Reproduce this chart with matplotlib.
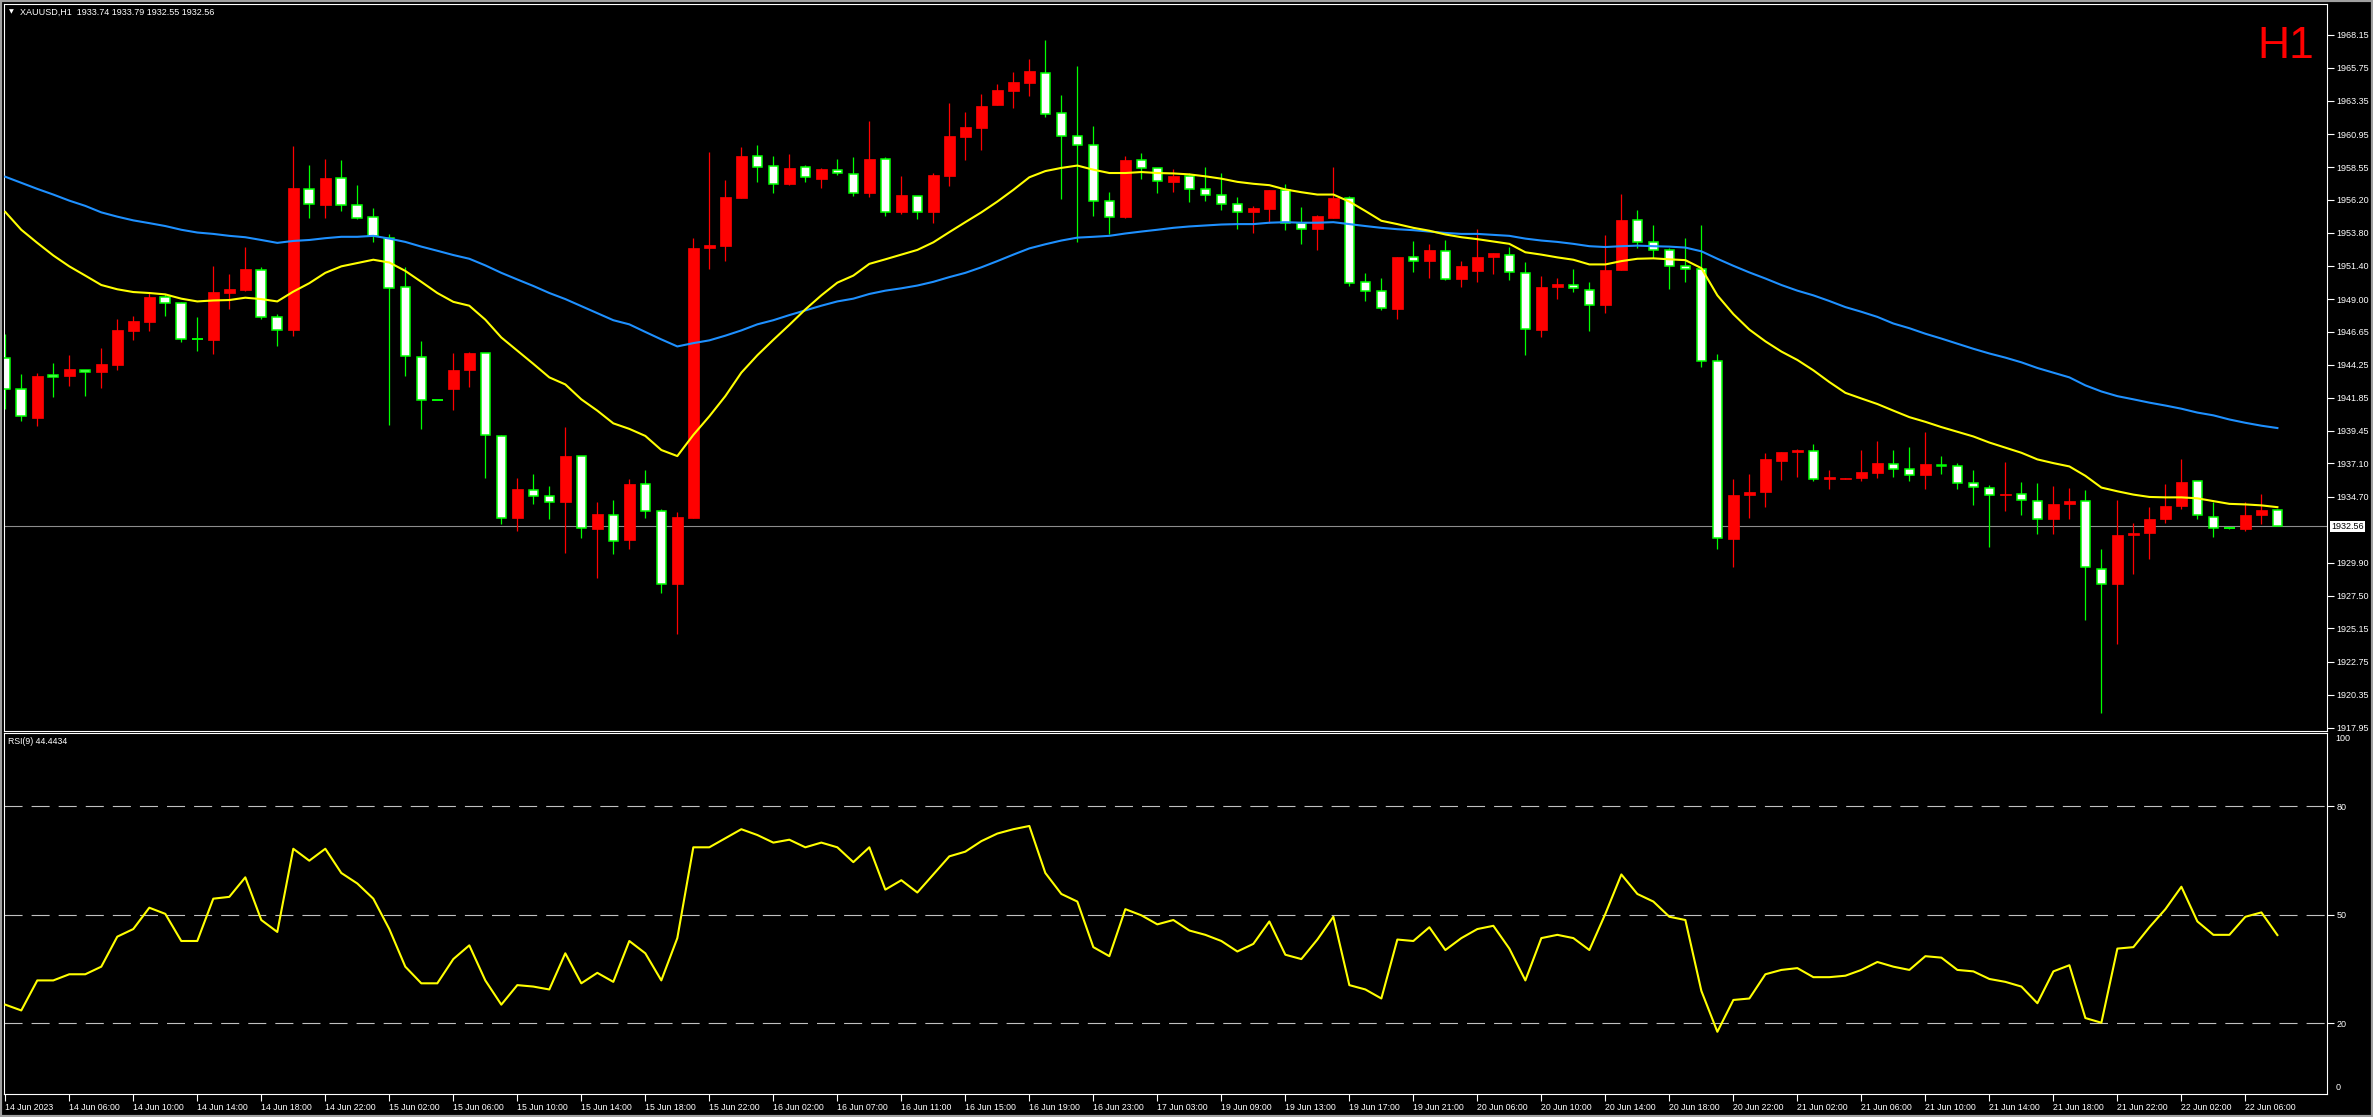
import matplotlib
matplotlib.use('Agg')
import matplotlib.pyplot as plt
from matplotlib.patches import Rectangle

plt.rcParams['font.family'] = ['Liberation Sans', 'DejaVu Sans']
plt.rcParams['lines.scale_dashes'] = False

symbol = 'XAUUSD,H1'
last_ohlc = [1933.74, 1933.79, 1932.55, 1932.56]

opens = [1944.75, 1942.48, 1940.41, 1943.50, 1943.40, 1943.86, 1943.73, 1944.24, 1946.72, 1947.33,
         1949.13, 1948.69, 1946.14, 1946.04, 1949.47, 1949.64, 1951.13, 1947.67, 1946.79, 1956.94,
         1955.82, 1957.75, 1955.82, 1954.94, 1953.41, 1949.88, 1944.78, 1941.70, 1942.51, 1943.83,
         1945.09, 1939.09, 1933.18, 1935.15, 1934.74, 1934.33, 1937.63, 1932.37, 1933.39, 1931.52,
         1935.59, 1933.66, 1928.33, 1933.15, 1952.67, 1952.83, 1956.33, 1959.35, 1958.64, 1957.35,
         1958.57, 1957.72, 1958.37, 1958.03, 1956.70, 1959.11, 1955.28, 1956.50, 1955.28, 1957.93,
         1960.71, 1961.42, 1963.02, 1964.10, 1964.68, 1965.39, 1962.44, 1960.78, 1960.13, 1956.13,
         1954.97, 1959.04, 1958.47, 1957.45, 1957.89, 1956.94, 1956.57, 1955.92, 1955.28, 1955.55,
         1956.91, 1954.50, 1954.09, 1954.87, 1956.30, 1950.22, 1949.57, 1948.28, 1952.05, 1951.78,
         1952.46, 1950.46, 1951.00, 1952.02, 1952.22, 1950.86, 1946.79, 1949.88, 1950.05, 1949.68,
         1948.59, 1951.07, 1954.70, 1953.17, 1952.53, 1951.37, 1951.20, 1944.48, 1931.65, 1934.81,
         1935.05, 1937.29, 1937.94, 1937.97, 1935.96, 1935.96, 1936.07, 1936.44, 1937.08, 1936.68,
         1936.24, 1937.02, 1936.88, 1935.66, 1935.35, 1934.78, 1934.85, 1934.40, 1933.05, 1934.13,
         1934.40, 1929.48, 1928.40, 1931.89, 1932.03, 1933.05, 1934.00, 1935.79, 1933.25, 1932.43,
         1932.37, 1933.39, 1933.74]
highs = [1946.45, 1943.56, 1943.66, 1944.37, 1944.95, 1943.86, 1945.46, 1947.54, 1947.81, 1949.47,
         1949.34, 1948.76, 1947.71, 1951.40, 1950.79, 1952.76, 1951.30, 1947.91, 1960.10, 1958.74,
         1959.15, 1959.08, 1957.25, 1955.58, 1953.68, 1951.30, 1945.97, 1941.70, 1945.12, 1945.19,
         1945.09, 1939.19, 1936.03, 1936.34, 1935.45, 1939.70, 1937.63, 1934.30, 1934.44, 1935.96,
         1936.61, 1933.80, 1933.59, 1953.41, 1959.62, 1957.62, 1960.00, 1960.17, 1959.35, 1959.49,
         1958.71, 1958.50, 1959.15, 1959.28, 1961.90, 1959.28, 1957.93, 1956.50, 1958.13, 1963.19,
         1962.54, 1963.83, 1964.58, 1965.43, 1966.38, 1967.77, 1963.77, 1965.87, 1961.52, 1956.74,
         1959.35, 1959.59, 1958.47, 1958.40, 1958.13, 1958.57, 1958.10, 1956.40, 1955.75, 1956.91,
         1957.32, 1955.65, 1955.11, 1958.57, 1956.47, 1950.90, 1950.53, 1952.05, 1953.21, 1952.97,
         1953.28, 1951.74, 1954.06, 1952.32, 1952.76, 1951.67, 1950.66, 1950.53, 1951.17, 1950.22,
         1953.65, 1956.60, 1955.45, 1954.36, 1952.73, 1953.41, 1954.36, 1944.99, 1935.96, 1936.34,
         1937.87, 1937.94, 1938.14, 1938.51, 1936.61, 1936.07, 1938.07, 1938.72, 1938.07, 1938.27,
         1939.36, 1937.63, 1937.15, 1936.61, 1935.52, 1937.19, 1935.76, 1935.69, 1935.45, 1935.32,
         1935.18, 1930.87, 1934.44, 1932.78, 1933.96, 1935.62, 1937.43, 1935.79, 1934.33, 1932.50,
         1934.27, 1934.85, 1933.79]
lows = [1941.06, 1940.17, 1939.84, 1941.94, 1942.72, 1942.00, 1942.55, 1943.86, 1946.07, 1946.69,
        1947.74, 1945.90, 1945.26, 1945.05, 1948.25, 1949.61, 1947.54, 1945.63, 1946.35, 1954.84,
        1954.84, 1955.35, 1954.77, 1953.17, 1939.87, 1943.40, 1939.57, 1941.70, 1940.96, 1942.62,
        1936.03, 1932.74, 1932.20, 1934.13, 1933.08, 1930.64, 1931.72, 1928.77, 1930.57, 1930.87,
        1933.12, 1927.75, 1924.73, 1933.15, 1951.20, 1951.74, 1956.33, 1957.49, 1956.70, 1957.25,
        1957.49, 1957.01, 1957.96, 1956.47, 1956.37, 1955.04, 1955.14, 1954.77, 1954.53, 1957.18,
        1959.08, 1959.79, 1963.02, 1962.85, 1963.70, 1962.20, 1956.23, 1953.10, 1955.01, 1953.68,
        1954.90, 1957.72, 1956.70, 1956.77, 1956.06, 1956.09, 1955.48, 1954.09, 1953.82, 1954.53,
        1954.02, 1952.97, 1952.56, 1954.87, 1949.98, 1948.83, 1948.18, 1947.57, 1950.97, 1950.53,
        1950.36, 1949.91, 1950.25, 1950.79, 1950.39, 1944.95, 1946.28, 1949.03, 1949.51, 1946.69,
        1948.01, 1951.07, 1952.67, 1951.98, 1949.74, 1950.25, 1944.07, 1930.87, 1929.62, 1933.12,
        1933.96, 1935.93, 1936.13, 1935.79, 1935.25, 1935.96, 1935.86, 1936.07, 1936.13, 1935.79,
        1935.25, 1936.30, 1935.28, 1934.06, 1931.04, 1933.63, 1933.39, 1931.96, 1932.00, 1933.08,
        1925.78, 1918.99, 1924.05, 1929.11, 1930.19, 1932.78, 1933.83, 1933.05, 1931.79, 1932.33,
        1932.23, 1932.74, 1932.55]
closes = [1942.48, 1940.51, 1943.43, 1943.33, 1943.93, 1943.73, 1944.27, 1946.75, 1947.40, 1949.13,
          1948.69, 1946.14, 1946.14, 1949.51, 1949.71, 1951.17, 1947.67, 1946.79, 1957.05, 1955.85,
          1957.75, 1955.79, 1954.90, 1953.58, 1949.78, 1944.85, 1941.67, 1941.70, 1943.86, 1945.09,
          1939.13, 1933.18, 1935.25, 1934.71, 1934.33, 1937.63, 1932.40, 1933.42, 1931.45, 1935.59,
          1933.63, 1928.33, 1933.22, 1952.70, 1952.90, 1956.40, 1959.35, 1958.54, 1957.35, 1958.50,
          1957.86, 1958.40, 1958.10, 1956.70, 1959.15, 1955.31, 1956.54, 1955.31, 1957.99, 1960.81,
          1961.46, 1962.98, 1964.14, 1964.71, 1965.53, 1962.41, 1960.78, 1960.17, 1956.13, 1954.97,
          1959.08, 1958.47, 1957.56, 1957.89, 1956.94, 1956.54, 1955.92, 1955.31, 1955.58, 1956.91,
          1954.50, 1954.09, 1955.01, 1956.33, 1950.19, 1949.57, 1948.32, 1952.05, 1951.78, 1952.56,
          1950.49, 1951.40, 1952.05, 1952.32, 1950.93, 1946.86, 1949.88, 1950.09, 1949.78, 1948.59,
          1951.10, 1954.74, 1953.10, 1952.56, 1951.37, 1951.17, 1944.51, 1931.69, 1934.81, 1935.01,
          1937.43, 1937.94, 1938.07, 1935.96, 1936.10, 1936.07, 1936.47, 1937.12, 1936.68, 1936.27,
          1937.05, 1936.88, 1935.69, 1935.39, 1934.81, 1934.85, 1934.44, 1933.08, 1934.13, 1934.37,
          1929.58, 1928.40, 1931.92, 1932.06, 1933.08, 1934.03, 1935.76, 1933.35, 1932.40, 1932.43,
          1933.39, 1933.76, 1932.56]

# moving averages as drawn on the chart (yellow fast, blue slow)
ma_fast = [1955.31, 1954.02, 1953.07, 1952.16, 1951.37, 1950.70, 1950.02, 1949.71, 1949.51, 1949.44,
           1949.34, 1949.03, 1948.83, 1948.90, 1948.93, 1949.10, 1949.00, 1948.83, 1949.54, 1950.15,
           1950.90, 1951.37, 1951.61, 1951.85, 1951.65, 1951.04, 1950.25, 1949.44, 1948.80, 1948.52,
           1947.51, 1946.22, 1945.27, 1944.31, 1943.33, 1942.82, 1941.74, 1940.92, 1940.00, 1939.60,
           1939.09, 1938.07, 1937.63, 1939.16, 1940.51, 1941.97, 1943.67, 1944.93, 1946.05, 1947.13,
           1948.25, 1949.27, 1950.19, 1950.70, 1951.55, 1951.88, 1952.22, 1952.56, 1953.11, 1953.85,
           1954.57, 1955.28, 1956.06, 1956.91, 1957.82, 1958.27, 1958.50, 1958.67, 1958.37, 1958.13,
           1958.13, 1958.20, 1958.13, 1958.10, 1958.03, 1957.89, 1957.72, 1957.49, 1957.35, 1957.25,
           1956.94, 1956.74, 1956.57, 1956.57, 1956.06, 1955.38, 1954.67, 1954.43, 1954.16, 1953.95,
           1953.68, 1953.48, 1953.34, 1953.17, 1953.00, 1952.39, 1952.22, 1952.02, 1951.85, 1951.51,
           1951.51, 1951.75, 1951.92, 1951.95, 1951.88, 1951.82, 1951.24, 1949.27, 1947.91, 1946.79,
           1945.94, 1945.20, 1944.59, 1943.84, 1942.99, 1942.21, 1941.80, 1941.40, 1940.92, 1940.45,
           1940.11, 1939.73, 1939.39, 1939.05, 1938.61, 1938.24, 1937.87, 1937.39, 1937.12, 1936.88,
           1936.20, 1935.35, 1935.08, 1934.84, 1934.67, 1934.64, 1934.64, 1934.57, 1934.37, 1934.17,
           1934.13, 1934.06, 1933.93]
ma_slow = [1957.86, 1957.42, 1956.98, 1956.57, 1956.13, 1955.75, 1955.28, 1954.97, 1954.70, 1954.50,
           1954.29, 1954.02, 1953.82, 1953.72, 1953.58, 1953.48, 1953.28, 1953.07, 1953.21, 1953.28,
           1953.41, 1953.51, 1953.51, 1953.58, 1953.38, 1953.14, 1952.80, 1952.50, 1952.19, 1951.92,
           1951.44, 1950.90, 1950.42, 1949.95, 1949.44, 1949.00, 1948.49, 1947.98, 1947.47, 1947.17,
           1946.62, 1946.08, 1945.57, 1945.81, 1946.01, 1946.35, 1946.73, 1947.17, 1947.47, 1947.84,
           1948.18, 1948.52, 1948.83, 1949.03, 1949.37, 1949.61, 1949.78, 1949.98, 1950.25, 1950.59,
           1950.90, 1951.30, 1951.75, 1952.22, 1952.67, 1952.97, 1953.24, 1953.45, 1953.51, 1953.58,
           1953.75, 1953.89, 1954.02, 1954.16, 1954.26, 1954.33, 1954.40, 1954.43, 1954.43, 1954.53,
           1954.57, 1954.53, 1954.53, 1954.57, 1954.43, 1954.29, 1954.16, 1954.06, 1953.99, 1953.89,
           1953.79, 1953.72, 1953.72, 1953.65, 1953.58, 1953.38, 1953.24, 1953.14, 1953.00, 1952.83,
           1952.77, 1952.83, 1952.87, 1952.83, 1952.80, 1952.73, 1952.46, 1951.92, 1951.41, 1950.93,
           1950.49, 1950.02, 1949.61, 1949.27, 1948.86, 1948.42, 1948.08, 1947.71, 1947.23, 1946.89,
           1946.49, 1946.14, 1945.77, 1945.40, 1945.06, 1944.76, 1944.42, 1944.01, 1943.67, 1943.33,
           1942.75, 1942.31, 1941.97, 1941.74, 1941.50, 1941.29, 1941.06, 1940.78, 1940.58, 1940.28,
           1940.04, 1939.83, 1939.66]

rsi = [25.2, 23.6, 31.9, 31.9, 33.6, 33.6, 35.7, 44.0, 46.1, 52.0,
       50.3, 42.8, 42.8, 54.5, 55.0, 60.4, 48.6, 45.3, 68.3, 65.0,
       68.3, 61.6, 58.7, 54.5, 46.1, 35.7, 31.1, 31.1, 37.8, 41.6,
       31.9, 25.2, 30.6, 30.2, 29.4, 39.4, 31.1, 34.0, 31.5, 42.8,
       39.4, 31.9, 43.6, 68.7, 68.7, 71.2, 73.7, 72.1, 70.0, 70.8,
       68.7, 70.0, 68.7, 64.6, 68.7, 57.0, 59.6, 56.2, 61.2, 66.2,
       67.5, 70.4, 72.5, 73.7, 74.6, 61.6, 55.8, 53.7, 41.1, 38.6,
       51.6, 49.9, 47.4, 48.6, 45.7, 44.5, 42.8, 39.9, 42.0, 48.2,
       39.0, 37.8, 43.2, 49.5, 30.6, 29.4, 26.9, 43.2, 42.8, 46.6,
       40.3, 43.6, 46.1, 47.0, 40.7, 31.9, 43.6, 44.5, 43.6, 40.3,
       50.3, 61.2, 55.8, 53.7, 49.5, 48.6, 29.0, 17.7, 26.5, 26.9,
       33.6, 34.8, 35.3, 32.8, 32.8, 33.2, 34.8, 37.0, 35.7, 34.8,
       38.6, 38.2, 34.8, 34.4, 32.3, 31.5, 30.2, 25.6, 34.4, 36.1,
       21.5, 20.2, 40.7, 41.1, 46.6, 51.6, 57.8, 48.2, 44.5, 44.5,
       49.5, 50.7, 44.44]
rsi_period = 9
rsi_levels = [20, 50, 80]

time_labels = ['14 Jun 2023', '14 Jun 06:00', '14 Jun 10:00', '14 Jun 14:00', '14 Jun 18:00', '14 Jun 22:00',
               '15 Jun 02:00', '15 Jun 06:00', '15 Jun 10:00', '15 Jun 14:00', '15 Jun 18:00', '15 Jun 22:00',
               '16 Jun 02:00', '16 Jun 07:00', '16 Jun 11:00', '16 Jun 15:00', '16 Jun 19:00', '16 Jun 23:00',
               '17 Jun 03:00', '19 Jun 09:00', '19 Jun 13:00', '19 Jun 17:00', '19 Jun 21:00', '20 Jun 06:00',
               '20 Jun 10:00', '20 Jun 14:00', '20 Jun 18:00', '20 Jun 22:00', '21 Jun 02:00', '21 Jun 06:00',
               '21 Jun 10:00', '21 Jun 14:00', '21 Jun 18:00', '21 Jun 22:00', '22 Jun 02:00', '22 Jun 06:00']
price_ticks = [1968.15, 1965.75, 1963.35, 1960.95, 1958.55, 1956.20, 1953.80, 1951.40, 1949.00, 1946.65,
               1944.25, 1941.85, 1939.45, 1937.10, 1934.70, 1929.90, 1927.50, 1925.15, 1922.75, 1920.35,
               1917.95]

W, H = 2373, 1117
fig = plt.figure(figsize=(W / 100, H / 100), dpi=100, facecolor='black')


def box(x0, y0, x1, y1):
    # pixel box (top-left origin) -> figure fraction
    return [x0 / W, 1 - y1 / H, (x1 - x0) / W, (y1 - y0) / H]


ax = fig.add_axes(box(4, 4, 2327, 731))
ax2 = fig.add_axes(box(4, 733, 2327, 1094))
for a in (ax, ax2):
    a.set_facecolor('black')
    for s in a.spines.values():
        s.set_color('white')
        s.set_linewidth(0.8)
    a.set_xlim(-0.08, 145.1)

n = len(opens)
x = list(range(n))
up = [i for i in x if closes[i] > opens[i]]
down = [i for i in x if closes[i] < opens[i]]
flat = [i for i in x if closes[i] == opens[i]]

# wicks
ax.vlines(up, [lows[i] for i in up], [highs[i] for i in up], color='#ff0000', lw=0.9, zorder=2)
ax.vlines(down + flat, [lows[i] for i in down + flat], [highs[i] for i in down + flat],
          color='#00ff00', lw=0.9, zorder=2)
# bodies
ax.bar(up, [closes[i] - opens[i] for i in up], bottom=[opens[i] for i in up], width=0.66,
       color='#ff0000', edgecolor='#ff0000', lw=0.5, zorder=3)
ax.bar(down, [opens[i] - closes[i] for i in down], bottom=[closes[i] for i in down], width=0.6,
       facecolor='white', edgecolor='#00ff00', lw=1.1, zorder=3)
ax.hlines([opens[i] for i in flat], [i - 0.33 for i in flat], [i + 0.33 for i in flat],
          color='#00ff00', lw=1.4, zorder=3)

ax.plot(x, ma_slow, color='#1e90ff', lw=1.5, zorder=4)
ax.plot(x, ma_fast, color='#ffff00', lw=1.5, zorder=4)
ax.axhline(last_ohlc[3], color='#8c8c8c', lw=0.8, zorder=1)

ax.set_ylim(1917.72, 1970.37)
ax.yaxis.tick_right()
ax.set_yticks(price_ticks)
ax.set_yticklabels(['%.2f' % v for v in price_ticks])
ax.tick_params(axis='y', colors='white', length=5, width=0.8, pad=2, labelsize=6.5)
ax.tick_params(axis='x', bottom=False, labelbottom=False)
ax.annotate('%.2f' % last_ohlc[3], xy=(1, last_ohlc[3]), xycoords=('axes fraction', 'data'),
            xytext=(4, 0), textcoords='offset pixels', ha='left', va='center', fontsize=6.5,
            color='black', annotation_clip=False,
            bbox=dict(boxstyle='square,pad=0.12', fc='white', ec='none'))

# RSI panel
ax2.plot(x, rsi, color='#ffff00', lw=1.5, zorder=3)
for lv in rsi_levels:
    ax2.axhline(lv, color='#c0c0c0', lw=0.8, dashes=(13, 6.5), zorder=1)
ax2.set_ylim(0.5, 100.3)
ax2.yaxis.tick_right()
ax2.set_yticks(rsi_levels)
ax2.set_yticklabels([str(v) for v in rsi_levels])
ax2.tick_params(axis='y', colors='white', length=5, width=0.8, pad=2, labelsize=6.5)
ax2.text(1.0035, 100, '100', transform=ax2.get_yaxis_transform(), color='white', fontsize=6.5,
         ha='left', va='top')
ax2.text(1.0035, 1, '0', transform=ax2.get_yaxis_transform(), color='white', fontsize=6.5,
         ha='left', va='bottom')
ax2.text(0.0017, 0.99, 'RSI(%d) %.4f' % (rsi_period, 44.4434), transform=ax2.transAxes,
         color='white', fontsize=6.3, ha='left', va='top')
ax2.set_xticks(list(range(0, 4 * len(time_labels), 4)))
ax2.set_xticklabels(time_labels, ha='left')
ax2.tick_params(axis='x', colors='white', length=5, width=0.8, pad=1.5, labelsize=6.3)

# header and timeframe mark
fig.text(11 / W, 1 - 12 / H, '\u25bc', color='white', fontsize=4.5, ha='center', va='center',
         family='DejaVu Sans')
fig.text(20 / W, 1 - 12.5 / H, '%s  %s' % (symbol, ' '.join('%.2f' % v for v in last_ohlc)),
         color='white', fontsize=6.5, ha='left', va='center')
fig.text(2314 / W, 1 - 58 / H, 'H1', color='#ff0000', fontsize=32, ha='right', va='baseline')

fig.add_artist(Rectangle((0, 0), 1, 1, transform=fig.transFigure, fill=False,
                         edgecolor='#a0a0a0', lw=3))

fig.savefig('out.png', dpi=100, facecolor='black')
